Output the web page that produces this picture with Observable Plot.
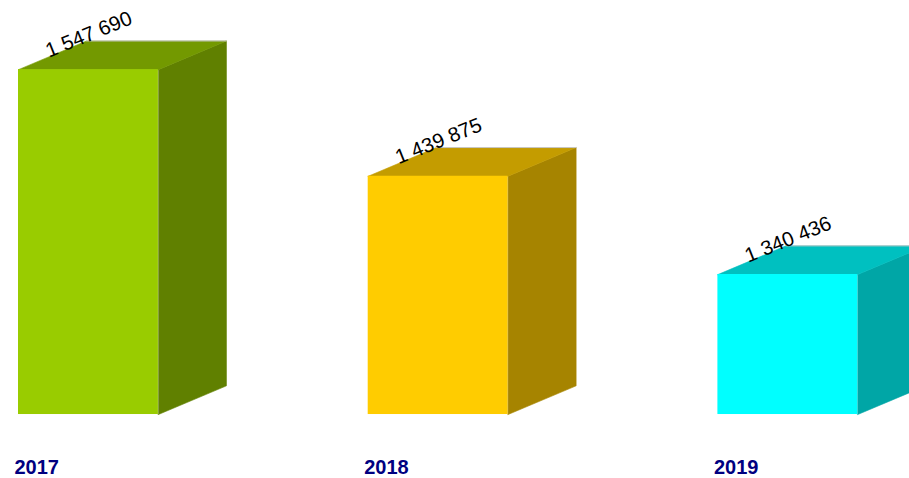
<!DOCTYPE html>
<html>
<head>
<meta charset="utf-8">
<script src="https://cdn.jsdelivr.net/npm/d3@7"></script>
<script src="https://cdn.jsdelivr.net/npm/@observablehq/plot@0.6"></script>
<style>
html,body{margin:0;padding:0;background:#fff}
svg{display:block}
</style>
</head>
<body>
<div id="chart"></div>
<script>
const years = [2017, 2018, 2019];
const values = [1547690, 1439875, 1340436];
const valueLabels = ["1 547 690", "1 439 875", "1 340 436"];
const frontColors = ["#99cc00", "#ffcc00", "#00ffff"];
const topColors = ["#739900", "#c49c00", "#00c0c0"];
const sideColors = ["#608000", "#a68400", "#00a6a6"];

const baseValue = 1198850;      // value at the floor of the bars
const barWidth = 0.4;           // in years
const depthX = 0.1946;          // in years
const depthY = 29000;           // in value units

const bars = years.map((year, i) => ({
  year, value: values[i], label: valueLabels[i],
  front: frontColors[i], top: topColors[i], side: sideColors[i]
}));

const sidePoints = bars.flatMap(b => {
  const r = b.year + barWidth;
  return [
    {id: b.year, x: r, y: baseValue, c: b.side},
    {id: b.year, x: r + depthX, y: baseValue + depthY, c: b.side},
    {id: b.year, x: r + depthX, y: b.value + depthY, c: b.side},
    {id: b.year, x: r, y: b.value, c: b.side}
  ];
});
const topPoints = bars.flatMap(b => {
  const r = b.year + barWidth;
  return [
    {id: b.year, x: b.year, y: b.value, c: b.top},
    {id: b.year, x: b.year + depthX, y: b.value + depthY, c: b.top},
    {id: b.year, x: r + depthX, y: b.value + depthY, c: b.top},
    {id: b.year, x: r, y: b.value, c: b.top}
  ];
});
const backEdge = bars.flatMap(b => [
  {id: b.year, x: b.year + depthX, y: b.value + depthY},
  {id: b.year, x: b.year + barWidth + depthX, y: b.value + depthY}
]);

const plot = Plot.plot({
  width: 909,
  height: 478,
  margin: 0,
  style: {background: "#fff", fontFamily: "'Liberation Sans', Arial, sans-serif"},
  x: {type: "linear", domain: [2017, 2019], range: [18, 717.4], axis: null},
  y: {type: "linear", domain: [1134139, 1617617], range: [478, 0], axis: null},
  marks: [
    Plot.line(sidePoints, {x: "x", y: "y", z: "id", fill: "c", stroke: "c", strokeWidth: 0.6, curve: "linear-closed"}),
    Plot.line(topPoints, {x: "x", y: "y", z: "id", fill: "c", stroke: "c", strokeWidth: 0.6, curve: "linear-closed"}),
    Plot.line(backEdge, {x: "x", y: "y", z: "id", stroke: "#c8c8c8", strokeWidth: 1}),
    Plot.rect(bars, {
      x1: "year", x2: d => d.year + barWidth,
      y1: () => baseValue, y2: "value",
      fill: "front", stroke: "none", inset: 0
    }),
    Plot.text(bars, {
      x: "year", y: "value", text: "label",
      rotate: -22, textAnchor: "start", fontSize: 20.5, fill: "#000",
      dx: 28, dy: -18
    }),
    Plot.text(bars, {
      x: "year", text: d => String(d.year), frameAnchor: "bottom",
      textAnchor: "start", fontSize: 20, fontWeight: "bold", fill: "#000080",
      dx: -4, dy: -5, lineAnchor: "bottom"
    })
  ]
});
document.getElementById("chart").appendChild(plot);
</script>
</body>
</html>
